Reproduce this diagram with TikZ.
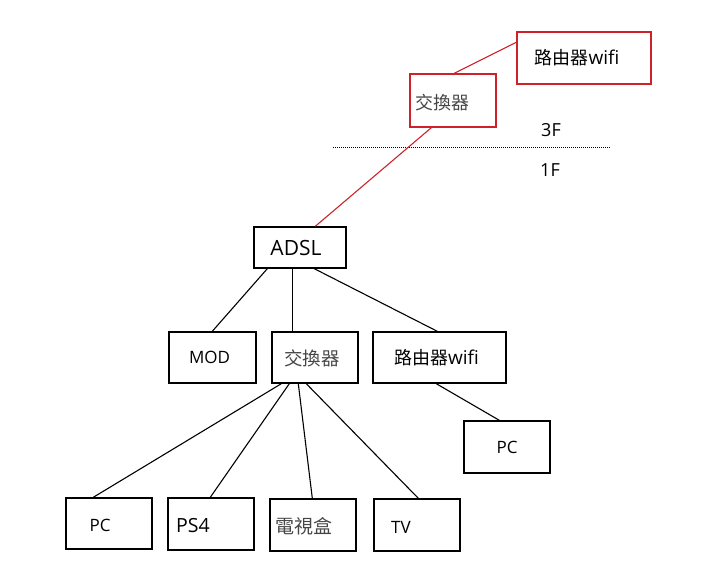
\documentclass[tikz,border=0pt]{standalone}
\usepackage{fontspec}
\setmainfont{Open Sans}
\newfontfamily\cjk{Noto Sans CJK TC}
\definecolor{lnred}{RGB}{206,34,42}
\definecolor{txgray}{RGB}{70,70,70}
\tikzset{
  box/.style={draw=black, line width=1.4pt, minimum width=86pt, minimum height=51pt, inner sep=0pt},
  redbox/.style={box, draw=lnred},
  conn/.style={line width=1.1pt, black},
  redconn/.style={line width=1.1pt, lnred},
  fs/.style={font=\fontsize{#1}{#1}\selectfont},
}
\begin{document}
\begin{tikzpicture}[x=1pt,y=-1pt]
\useasboundingbox (0,0) rectangle (720,575);
% 3F
\node[redbox, minimum width=134pt, minimum height=52pt,
  label={[xshift=-7pt,fs=18]center:{\cjk 路由器}\fontsize{19}{19}\selectfont wifi}] (r3) at (584,58) {};
\node[redbox, minimum height=53pt,
  label={[xshift=-11pt,yshift=-2pt,fs=18,text=txgray]center:{\cjk 交換器}}] (s3) at (453,100.5) {};
\node[fs=18] (f3) at (551,130) {3F};
\node[fs=18] (f1) at (550,170) {1F};
\draw[line width=0.9pt, dash pattern=on 1pt off 1pt] (333,147) -- (611,147);
% 1F
\node[box, minimum width=92pt, minimum height=41pt,
  label={[xshift=-4pt,fs=21]center:ADSL}] (adsl) at (300,247.5) {};
\node[box, minimum width=87pt,
  label={[xshift=-3pt,fs=17]center:MOD}] (mod) at (212.5,357.5) {};
\node[box,
  label={[xshift=-3pt,yshift=-1pt,fs=18.5,text=txgray]center:{\cjk 交換器}}] (sw) at (315,357.5) {};
\node[box, minimum width=133pt,
  label={[xshift=-3pt,fs=18]center:{\cjk 路由器}\fontsize{19}{19}\selectfont wifi}] (rt) at (439.5,357.5) {};
\node[box, minimum height=52pt,
  label={[fs=17]center:PC}] (pcr) at (507,447) {};
\node[box,
  label={[xshift=-9pt,yshift=-2pt,fs=17]center:PC}] (pc) at (109,523.5) {};
\node[box, minimum height=52pt,
  label={[xshift=-18pt,yshift=-2pt,fs=19.5]center:PS4}] (ps4) at (211,524) {};
\node[box, minimum height=52pt,
  label={[xshift=-9pt,yshift=-1pt,fs=19,text=txgray]center:{\cjk 電視盒}}] (stb) at (313,525) {};
\node[box, minimum height=52pt,
  label={[xshift=-16pt,yshift=-2pt,fs=17]center:TV}] (tv) at (417,525) {};
% red connectors
\draw[redconn] ([xshift=45pt]s3.north west) -- ([yshift=-11pt]r3.north west);
\draw[redconn] ([xshift=22pt]s3.south west) -- ([xshift=62pt]adsl.north west);
% black connectors
\draw[conn] ([xshift=14pt]adsl.south west) -- ([xshift=44pt]mod.north west);
\draw[conn] ([xshift=39pt]adsl.south west) -- ([xshift=21pt]sw.north west);
\draw[conn] ([xshift=61pt]adsl.south west) -- ([xshift=65pt]rt.north west);
\draw[conn] ([xshift=10pt]sw.south west) -- ([xshift=28pt]pc.north west);
\draw[conn] ([xshift=18pt]sw.south west) -- ([xshift=43pt]ps4.north west);
\draw[conn] ([xshift=27pt]sw.south west) -- ([xshift=43pt]stb.north west);
\draw[conn] ([xshift=35pt]sw.south west) -- ([xshift=45pt]tv.north west);
\draw[conn] ([xshift=64pt]rt.south west) -- ([xshift=36pt]pcr.north west);
\end{tikzpicture}
\end{document}
